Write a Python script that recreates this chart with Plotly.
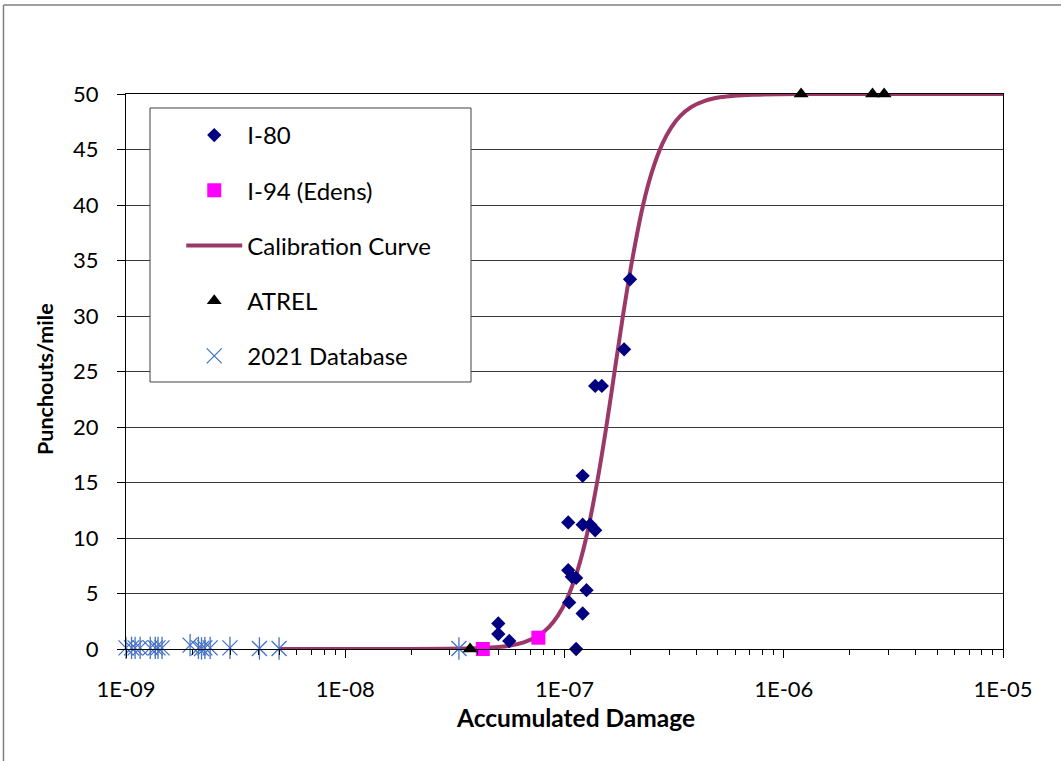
import plotly.graph_objects as go

# ---------------- data ----------------
i80_x = [4.99e-8, 4.99e-8, 5.6e-8, 1.13e-7, 1.04e-7, 1.21e-7, 1.31e-7, 1.38e-7,
         1.21e-7, 1.04e-7, 1.08e-7, 1.13e-7, 1.05e-7, 1.21e-7, 1.26e-7,
         1.99e-7, 1.87e-7, 1.38e-7, 1.48e-7]
i80_y = [2.3, 1.35, 0.72, 0.0, 11.4, 11.2, 11.2, 10.7,
         15.6, 7.1, 6.5, 6.4, 4.2, 3.2, 5.3,
         33.3, 27.0, 23.7, 23.7]

i94_x = [4.24e-8, 7.6e-8]
i94_y = [0.0, 1.02]

calib_x = [4.99e-9, 1.78e-8, 3.95e-8, 4.82e-8, 5.60e-8, 6.52e-8, 7.60e-8, 8.51e-8,
           9.33e-8, 1.025e-7, 1.143e-7, 1.255e-7, 1.408e-7, 1.551e-7, 1.692e-7,
           1.847e-7, 2.034e-7, 2.283e-7, 2.507e-7, 2.793e-7, 3.070e-7, 3.368e-7,
           3.772e-7, 4.393e-7, 5.114e-7, 5.943e-7, 7.255e-7, 1.186e-6, 1e-5]
calib_y = [0.0, 0.0, 0.06, 0.15, 0.3, 0.6, 1.2, 2.0,
           3.0, 4.5, 7.0, 10.0, 15.0, 20.0, 25.0,
           30.0, 35.0, 40.0, 43.0, 45.5, 47.0, 48.0,
           48.8, 49.4, 49.7, 49.85, 49.94, 50.0, 50.0]

atrel_x = [3.71e-8, 1.2e-6, 2.54e-6, 2.87e-6]
atrel_y = [0.0, 50.0, 50.0, 50.0]

db_x = [1.0e-9, 1.06e-9, 1.10e-9, 1.16e-9, 1.29e-9, 1.36e-9, 1.40e-9, 1.46e-9,
        1.96e-9, 2.14e-9, 2.21e-9, 2.29e-9, 2.42e-9, 2.98e-9, 4.06e-9, 4.99e-9,
        3.30e-8]
db_y = [0.1, 0.1, 0.1, 0.1, 0.1, 0.1, 0.1, 0.1,
        0.35, 0.1, 0.05, 0.1, 0.1, 0.1, 0.05, 0.05,
        0.05]

x_tick_vals = [1e-9, 1e-8, 1e-7, 1e-6, 1e-5]
x_tick_text = ["1E-09", "1E-08", "1E-07", "1E-06", "1E-05"]
y_tick_vals = [0, 5, 10, 15, 20, 25, 30, 35, 40, 45, 50]

x_title = "Accumulated Damage"
y_title = "Punchouts/mile"

FONT = "Lato, 'Open Sans', sans-serif"
DB_COLOR = "#4472C4"

fig = go.Figure()

fig.add_trace(go.Scatter(
    x=calib_x, y=calib_y, mode="lines", name="Calibration Curve",
    line=dict(color="#9B3868", width=4, shape="spline", smoothing=1.0),
    legendgroup="c", legendrank=3, cliponaxis=False))

fig.add_trace(go.Scatter(
    x=db_x, y=db_y, mode="markers", name="2021 Database",
    marker=dict(symbol="x-thin-open", size=15, color=DB_COLOR,
                line=dict(color=DB_COLOR, width=1.3)),
    legendgroup="e", legendrank=5, cliponaxis=False))
fig.add_trace(go.Scatter(
    x=db_x, y=db_y, mode="markers", showlegend=False,
    marker=dict(symbol="line-ns-open", size=16, color=DB_COLOR,
                line=dict(color=DB_COLOR, width=1.3)),
    legendgroup="e", hoverinfo="skip", cliponaxis=False))

fig.add_trace(go.Scatter(
    x=i80_x, y=i80_y, mode="markers", name="I-80",
    marker=dict(symbol="diamond", size=11, color="#000080"),
    legendgroup="a", legendrank=1, cliponaxis=False))

fig.add_trace(go.Scatter(
    x=i94_x, y=i94_y, mode="markers", name="I-94 (Edens)",
    marker=dict(symbol="square", size=14, color="#FF00FF"),
    legendgroup="b", legendrank=2, cliponaxis=False))

fig.add_trace(go.Scatter(
    x=atrel_x, y=atrel_y, mode="markers", name="ATREL",
    marker=dict(symbol="triangle-up", size=13, color="#000000"),
    legendgroup="d", legendrank=4, cliponaxis=False))

minor_vals = [m * 10.0 ** e for e in range(-9, -5) for m in range(2, 10)]

fig.update_layout(
    width=1061, height=761,
    margin=dict(l=126, r=58, t=94, b=112),
    paper_bgcolor="white", plot_bgcolor="white",
    font=dict(family=FONT, size=22, color="#000000"),
    showlegend=True,
    legend=dict(
        x=0.063, y=0.9658, xanchor="left", yanchor="top",
        bgcolor="rgba(0,0,0,0)", borderwidth=0,
        font=dict(family=FONT, size=24, color="#000000"),
        itemwidth=56, tracegroupgap=21, traceorder="grouped"),
    xaxis=dict(
        type="log", range=[-9, -5],
        tickvals=x_tick_vals, ticktext=x_tick_text,
        ticks="outside", ticklen=8, tickcolor="#000000", tickwidth=1,
        minor=dict(tickvals=minor_vals, ticks="outside", ticklen=5,
                   tickcolor="#000000", showgrid=False),
        showline=True, linecolor="#000000", linewidth=1, mirror=True,
        showgrid=False, zeroline=False,
        ticklabelstandoff=13,
        tickfont=dict(family=FONT, size=22)),
    yaxis=dict(
        range=[0, 50], tickvals=y_tick_vals,
        ticks="outside", ticklen=8, tickcolor="#000000", tickwidth=1,
        showline=True, linecolor="#000000", linewidth=1, mirror=True,
        showgrid=True, gridcolor="#3a3a3a", gridwidth=1, zeroline=False,
        ticklabelstandoff=14,
        tickfont=dict(family=FONT, size=22)),
    annotations=[
        dict(text="<b>%s</b>" % x_title, xref="paper", yref="paper",
             x=0.512, y=-0.1243, xanchor="center", yanchor="middle",
             showarrow=False, font=dict(family=FONT, size=24.5, color="#000000")),
        dict(text="<b>%s</b>" % y_title, xref="paper", yref="paper",
             x=-0.0924, y=0.4865, xanchor="center", yanchor="middle",
             textangle=-90, showarrow=False,
             font=dict(family=FONT, size=21.5, color="#000000")),
    ],
    shapes=[
        dict(type="rect", xref="paper", yref="paper",
             x0=0.02737, x1=0.3934, y0=0.4811, y1=0.9748,
             fillcolor="white", line=dict(color="#404040", width=1), layer="above"),
        dict(type="line", xref="paper", yref="paper",
             x0=-0.1397, x1=-0.1397, y0=-0.3, y1=1.1604,
             line=dict(color="#808080", width=1.5)),
        dict(type="line", xref="paper", yref="paper",
             x0=-0.1397, x1=1.2, y0=1.1604, y1=1.1604,
             line=dict(color="#808080", width=1.5)),
    ],
)

fig.write_html("out.html",
               config={"displayModeBar": False},
               post_script="document.body.style.margin='0';document.body.style.overflow='hidden';")
